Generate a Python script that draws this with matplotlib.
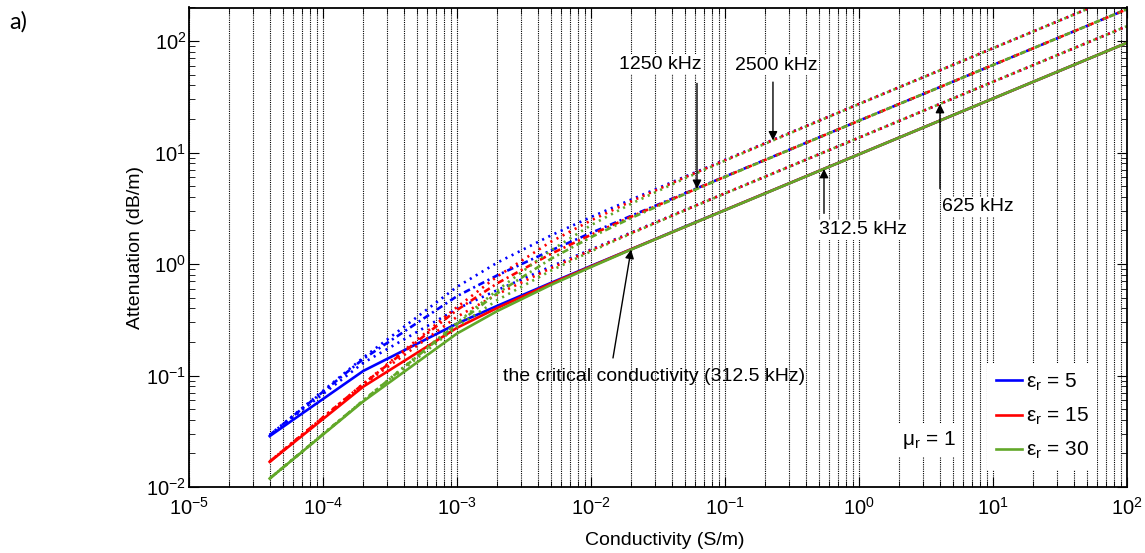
"""
Attenuation vs conductivity for three permittivities and four frequencies.
Saves picture to out.png
"""

import numpy as np
import matplotlib
matplotlib.use("Agg")
import matplotlib.pyplot as plt

plt.rcParams['font.family'] = ['Liberation Sans', 'DejaVu Sans']
plt.rcParams['mathtext.default'] = 'regular'

# conductivity points (S/m)
sigma = [4e-5, 2e-4, 1e-3, 2e-3, 5e-3, 1e-2, 2e-2, 5e-2, 1e-1, 1, 10, 100]

# attenuation (dB/m), eps_r = 5
e5_f312 = [0.0286, 0.110, 0.292, 0.422, 0.676, 0.961, 1.36, 2.16, 3.05, 9.65, 30.5, 96.5]
e5_f625 = [0.0291, 0.130, 0.396, 0.584, 0.948, 1.35, 1.92, 3.05, 4.31, 13.6, 43.1, 136]
e5_f1250 = [0.0292, 0.141, 0.515, 0.792, 1.32, 1.90, 2.71, 4.30, 6.09, 19.3, 61.0, 193]
e5_f2500 = [0.0293, 0.145, 0.624, 1.03, 1.80, 2.64, 3.79, 6.06, 8.60, 27.3, 86.3, 273]

# eps_r = 15
e15_f312 = [0.0168, 0.0795, 0.268, 0.404, 0.665, 0.952, 1.36, 2.15, 3.05, 9.65, 30.5, 96.5]
e15_f625 = [0.0169, 0.0830, 0.336, 0.536, 0.916, 1.33, 1.90, 3.04, 4.31, 13.6, 43.1, 136]
e15_f1250 = [0.0169, 0.0841, 0.387, 0.672, 1.23, 1.83, 2.66, 4.27, 6.07, 19.3, 61.0, 193]
e15_f2500 = [0.0169, 0.0844, 0.411, 0.774, 1.58, 2.46, 3.66, 5.98, 8.54, 27.3, 86.3, 273]

# eps_r = 30
e30_f312 = [0.0119, 0.0587, 0.238, 0.379, 0.648, 0.940, 1.35, 2.15, 3.04, 9.64, 30.5, 96.5]
e30_f625 = [0.0119, 0.0595, 0.274, 0.475, 0.870, 1.30, 1.88, 3.02, 4.29, 13.6, 43.1, 136]
e30_f1250 = [0.0119, 0.0597, 0.291, 0.547, 1.11, 1.74, 2.59, 4.23, 6.04, 19.3, 61.0, 193]
e30_f2500 = [0.0119, 0.0597, 0.297, 0.582, 1.32, 2.23, 3.48, 5.85, 8.45, 27.2, 86.2, 273]

eps_labels = ["5", "15", "30"]
colors = ["#0000FF", "#FF0000", "#62A829"]
series = [[e5_f312, e5_f625, e5_f1250, e5_f2500],
          [e15_f312, e15_f625, e15_f1250, e15_f2500],
          [e30_f312, e30_f625, e30_f1250, e30_f2500]]
styles = ["-", (0, (0.8, 1.8)), (0, (2.5, 1.4, 0.8, 1.4)), (0, (0.8, 1.8))]     # 312.5, 625, 1250, 2500 kHz

fig = plt.figure(figsize=(11.45, 5.53), dpi=100)
ax = fig.add_axes([189/1145, 66/553, 938/1145, 479.5/553])

for e in range(3):
    for k in range(4):
        lab = "ε$_{r}$ = " + eps_labels[e] if k == 0 else None
        ax.plot(sigma, series[e][k], color=colors[e], linestyle=styles[k], linewidth=1.9, label=lab)

ax.set_xscale("log")
ax.set_yscale("log")
ax.set_xlim(1e-5, 1e2)
ax.set_ylim(1e-2, 200)

ax.xaxis.grid(True, which="both", linestyle=(0, (1, 1)), color="k", linewidth=0.8)
ax.yaxis.grid(False, which="both")
ax.set_xticks([10.0**i for i in range(-5, 3)])
ax.set_yticks([10.0**i for i in range(-2, 3)])
ax.tick_params(which="both", direction="in", top=True, right=True, labelsize=14.5)
ax.tick_params(which="major", length=7)
ax.tick_params(which="minor", length=4)
ax.tick_params(axis="y", pad=2)
ax.tick_params(axis="x", pad=7)
for s in ax.spines.values():
    s.set_linewidth(1.3)

ax.set_xlabel("Conductivity (S/m)", fontsize=14)
ax.set_ylabel("Attenuation (dB/m)", fontsize=14)
ax.xaxis.set_label_coords(0.507, -0.093)
ax.yaxis.set_label_coords(-0.048, 0.5)


# y of a curve at conductivity s (log-log interpolation)
def at(s, ys):
    return 10**np.interp(np.log10(s), np.log10(sigma), np.log10(ys))


arrow = dict(arrowstyle="-|>", color="k", lw=1.0, mutation_scale=13, shrinkA=0, shrinkB=0)
box = dict(facecolor="white", edgecolor="none", pad=1)

ax.annotate("", xy=(0.0618, at(0.0618, e30_f1250)), xytext=(0, 76), textcoords="offset points", arrowprops=arrow)
ax.annotate("", xy=(0.228, at(0.228, e30_f2500)), xytext=(0, 42), textcoords="offset points", arrowprops=arrow)
ax.annotate("", xy=(4.02, at(4.02, e30_f625)), xytext=(0, -61), textcoords="offset points", arrowprops=arrow)
ax.annotate("", xy=(0.548, at(0.548, e30_f312)), xytext=(0, -32), textcoords="offset points", arrowprops=arrow)
ax.annotate("", xy=(0.0199, at(0.0199, e30_f312)), xytext=(-13, -78), textcoords="offset points", arrowprops=arrow)

ax.text(0.502, 0.882, "1250 kHz", transform=ax.transAxes, ha="center", va="center", fontsize=14, bbox=box)
ax.text(0.626, 0.880, "2500 kHz", transform=ax.transAxes, ha="center", va="center", fontsize=14, bbox=box)
ax.text(0.841, 0.584, "625 kHz", transform=ax.transAxes, ha="center", va="center", fontsize=14, bbox=box)
ax.text(0.719, 0.536, "312.5 kHz", transform=ax.transAxes, ha="center", va="center", fontsize=14, bbox=box)
ax.text(0.496, 0.231, "the critical conductivity (312.5 kHz)", transform=ax.transAxes,
        ha="center", va="center", fontsize=14)
ax.text(0.789, 0.098, "μ$_{r}$ = 1", transform=ax.transAxes, ha="center", va="center", fontsize=15,
        bbox=dict(facecolor="white", edgecolor="none", pad=4))

leg = ax.legend(loc="upper left", bbox_to_anchor=(0.851, 0.258), fontsize=15, frameon=True,
                handlelength=1.25, handletextpad=0.2, labelspacing=0.62, borderaxespad=0,
                fancybox=False, framealpha=1)
leg.get_frame().set_edgecolor("none")

fig.text(0.008, 0.96, "a)", fontsize=17, family=["Lato", "DejaVu Sans"], va="center")

fig.savefig("out.png", dpi=100)
